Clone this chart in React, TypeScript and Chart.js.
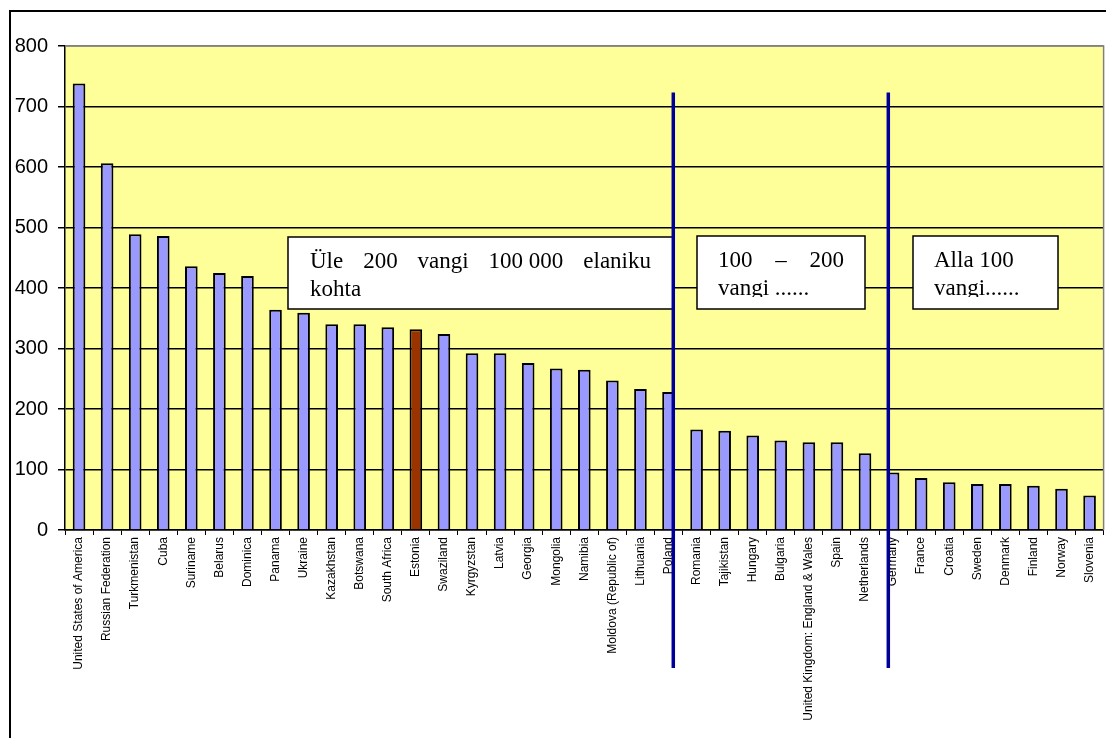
import React, { useEffect, useRef } from "react";
import { Chart, registerables } from "chart.js";

Chart.register(...registerables);

const categories = [
  "United States of America", "Russian Federation", "Turkmenistan", "Cuba", "Suriname",
  "Belarus", "Dominica", "Panama", "Ukraine", "Kazakhstan", "Botswana", "South Africa",
  "Estonia", "Swaziland", "Kyrgyzstan", "Latvia", "Georgia", "Mongolia", "Namibia",
  "Moldova (Republic of)", "Lithuania", "Poland", "Romania", "Tajikistan", "Hungary",
  "Bulgaria", "United Kingdom: England & Wales", "Spain", "Netherlands", "Germany",
  "France", "Croatia", "Sweden", "Denmark", "Finland", "Norway", "Slovenia",
];

const values = [
  738, 606, 489, 486, 436, 425, 420, 364, 359, 340, 340, 335, 332, 324, 292, 292, 276,
  267, 265, 247, 233, 228, 166, 164, 156, 148, 145, 145, 127, 95, 86, 79, 76, 76, 73, 68, 57,
];

const highlighted = "Estonia";

// Divider positions in category units (between groups) and their vertical extent in value units
const dividerPositions = [21.17, 28.83];
const dividerTop = 723;
const dividerBottom = -228;

const yTicks = [0, 100, 200, 300, 400, 500, 600, 700, 800];

const boxTexts = [
  { lines: [["Üle", "200", "vangi", "100 000", "elaniku"], ["kohta"]], justify: [true, false] },
  { lines: [["100", "–", "200"], ["vangi ......"]], justify: [true, false] },
  { lines: [["Alla 100"], ["vangi......"]], justify: [false, false] },
];

const boxRects = [
  { x: 288, y: 237, w: 385, h: 72, pad: 22, right: 651 },
  { x: 697, y: 236, w: 168, h: 73, pad: 21, right: 844 },
  { x: 913, y: 236, w: 145, h: 73, pad: 21, right: 1040 },
];

const overlayPlugin = {
  id: "overlay",
  beforeDraw(chart: any) {
    const { ctx, chartArea } = chart;
    ctx.save();
    ctx.fillStyle = "#FFFF99";
    ctx.fillRect(chartArea.left, chartArea.top, chartArea.right - chartArea.left, chartArea.bottom - chartArea.top);
    ctx.restore();
  },
  afterDraw(chart: any) {
    const { ctx, chartArea } = chart;
    const xs = chart.scales.x;
    const ys = chart.scales.y;
    ctx.save();
    // gray top/right border of plot area
    ctx.strokeStyle = "#808080";
    ctx.lineWidth = 1.5;
    ctx.beginPath();
    ctx.moveTo(chartArea.left, chartArea.top);
    ctx.lineTo(chartArea.right, chartArea.top);
    ctx.lineTo(chartArea.right, chartArea.bottom);
    ctx.stroke();

    // text boxes
    boxRects.forEach((r, i) => {
      ctx.fillStyle = "#FFFFFF";
      ctx.fillRect(r.x, r.y, r.w, r.h);
      ctx.strokeStyle = "#000000";
      ctx.lineWidth = 1.5;
      ctx.strokeRect(r.x, r.y, r.w, r.h);
      ctx.save();
      ctx.beginPath();
      ctx.rect(r.x, r.y, r.w, 61);
      ctx.clip();
      ctx.fillStyle = "#000000";
      ctx.font = "23px 'Liberation Serif', 'Times New Roman', serif";
      ctx.textBaseline = "alphabetic";
      const info = boxTexts[i];
      const baselines = [r.y + 31, r.y + 59];
      info.lines.forEach((words, li) => {
        const left = r.x + r.pad;
        if (info.justify[li] && words.length > 1) {
          const widths = words.map((w) => ctx.measureText(w).width);
          const total = widths.reduce((a, b) => a + b, 0);
          const gap = (r.right - left - total) / (words.length - 1);
          let cx = left;
          words.forEach((w, wi) => {
            ctx.fillText(w, cx, baselines[li]);
            cx += widths[wi] + gap;
          });
        } else {
          ctx.fillText(words.join(" "), left, baselines[li]);
        }
      });
      ctx.restore();
    });

    // blue dividers
    ctx.strokeStyle = "#000099";
    ctx.lineWidth = 3.5;
    dividerPositions.forEach((p) => {
      const px = xs.getPixelForValue(p);
      ctx.beginPath();
      ctx.moveTo(px, ys.getPixelForValue(dividerTop));
      ctx.lineTo(px, ys.getPixelForValue(dividerBottom));
      ctx.stroke();
    });

    // outer frame
    ctx.strokeStyle = "#000000";
    ctx.lineWidth = 2;
    ctx.beginPath();
    ctx.moveTo(10, chart.height + 5);
    ctx.lineTo(10, 11);
    ctx.lineTo(chart.width + 5, 11);
    ctx.stroke();
    ctx.restore();
  },
};

export default function App() {
  const ref = useRef<HTMLCanvasElement>(null);
  useEffect(() => {
    if (!ref.current) return;
    const chart = new Chart(ref.current, {
      type: "bar",
      data: {
        labels: categories,
        datasets: [
          {
            data: values,
            backgroundColor: categories.map((c) => (c === highlighted ? "#993300" : "#9999FF")),
            borderColor: "#000000",
            borderWidth: 2,
            categoryPercentage: 1,
            barPercentage: 0.45,
          },
        ],
      },
      options: {
        responsive: false,
        animation: false,
        devicePixelRatio: 1,
        layout: { padding: { left: 0, top: 46, right: 2, bottom: 0 } },
        plugins: { legend: { display: false }, tooltip: { enabled: false } },
        scales: {
          x: {
            offset: true,
            afterFit: (s: any) => { s.height = 208; },
            grid: {
              offset: true,
              drawOnChartArea: false,
              drawTicks: true,
              tickLength: 5,
              color: "#000000",
              tickColor: "#000000",
              lineWidth: 1,
            },
            border: { color: "#000000", width: 1.5 },
            ticks: {
              autoSkip: false,
              minRotation: 90,
              maxRotation: 90,
              padding: 2,
              color: "#000000",
              font: { family: "'Liberation Sans', Arial, sans-serif", size: 12 },
            },
          },
          y: {
            min: 0,
            max: 800,
            afterFit: (s: any) => { s.width = 65; },
            afterBuildTicks: (s: any) => { s.ticks = yTicks.map((v) => ({ value: v })); },
            grid: {
              color: (c: any) => (c.tick && c.tick.value === 800 ? "#808080" : "#000000"),
              tickColor: "#000000",
              lineWidth: 1.5,
              tickLength: 7,
            },
            border: { color: "#000000", width: 1.5 },
            ticks: {
              stepSize: 100,
              padding: 10,
              color: "#000000",
              font: { family: "'Liberation Sans', Arial, sans-serif", size: 20 },
            },
          },
        },
      },
      plugins: [overlayPlugin],
    });
    return () => chart.destroy();
  }, []);
  return (
    <div style={{ position: "fixed", left: 0, top: 0, width: 1106, height: 738, background: "#fff" }}>
      <canvas ref={ref} width={1106} height={738} style={{ display: "block" }} />
    </div>
  );
}
